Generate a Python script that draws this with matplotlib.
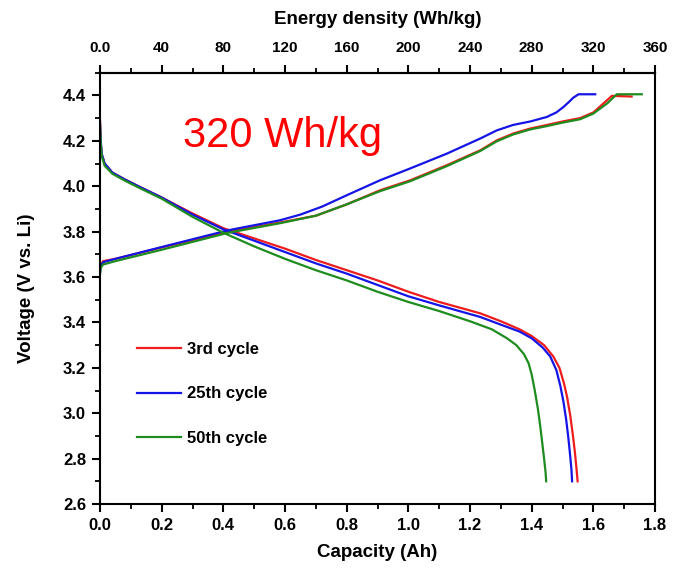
import matplotlib
matplotlib.use('Agg')
import matplotlib.pyplot as plt
from matplotlib.ticker import MultipleLocator, FuncFormatter, FixedLocator

plt.rcParams['font.family'] = ['Liberation Sans', 'DejaVu Sans']

# discharge curves (capacity Ah, voltage V)
dis3_c = [0.000, 0.002, 0.006, 0.015, 0.04, 0.08, 0.124, 0.20, 0.30, 0.40, 0.50, 0.60, 0.70, 0.80, 0.90, 1.00, 1.10, 1.233, 1.30, 1.36, 1.40, 1.44, 1.47, 1.49, 1.505, 1.515, 1.525, 1.533, 1.54, 1.545, 1.549]
dis3_v = [4.29, 4.20, 4.14, 4.10, 4.06, 4.03, 4.00, 3.95, 3.88, 3.815, 3.77, 3.725, 3.675, 3.63, 3.585, 3.535, 3.49, 3.44, 3.405, 3.37, 3.34, 3.30, 3.25, 3.20, 3.13, 3.07, 2.99, 2.91, 2.83, 2.76, 2.70]

dis25_c = [0.000, 0.002, 0.006, 0.015, 0.04, 0.08, 0.124, 0.20, 0.30, 0.40, 0.50, 0.60, 0.70, 0.80, 0.90, 1.00, 1.10, 1.233, 1.30, 1.36, 1.40, 1.435, 1.46, 1.48, 1.493, 1.503, 1.512, 1.519, 1.525, 1.529, 1.531]
dis25_v = [4.28, 4.20, 4.14, 4.10, 4.06, 4.03, 4.00, 3.95, 3.875, 3.81, 3.76, 3.71, 3.66, 3.615, 3.565, 3.515, 3.475, 3.424, 3.39, 3.36, 3.33, 3.29, 3.25, 3.19, 3.12, 3.05, 2.97, 2.89, 2.81, 2.75, 2.70]

dis50_c = [0.000, 0.002, 0.006, 0.015, 0.04, 0.08, 0.124, 0.20, 0.30, 0.40, 0.50, 0.60, 0.70, 0.80, 0.90, 1.00, 1.10, 1.20, 1.27, 1.32, 1.35, 1.375, 1.39, 1.40, 1.41, 1.42, 1.428, 1.435, 1.441, 1.445, 1.447]
dis50_v = [4.27, 4.19, 4.13, 4.09, 4.055, 4.025, 3.995, 3.945, 3.865, 3.795, 3.735, 3.68, 3.63, 3.585, 3.535, 3.49, 3.45, 3.405, 3.37, 3.33, 3.30, 3.26, 3.22, 3.17, 3.10, 3.02, 2.94, 2.86, 2.79, 2.74, 2.70]

# charge curves
ch3_c = [0.000, 0.002, 0.01, 0.05, 0.20, 0.416, 0.584, 0.70, 0.80, 0.908, 1.006, 1.124, 1.233, 1.287, 1.34, 1.395, 1.45, 1.50, 1.557, 1.60, 1.633, 1.66, 1.724]
ch3_v = [3.63, 3.65, 3.67, 3.68, 3.73, 3.80, 3.84, 3.87, 3.92, 3.982, 4.026, 4.092, 4.158, 4.202, 4.232, 4.254, 4.27, 4.285, 4.30, 4.325, 4.365, 4.398, 4.395]

ch25_c = [0.000, 0.002, 0.01, 0.05, 0.20, 0.416, 0.584, 0.65, 0.72, 0.80, 0.908, 1.00, 1.124, 1.233, 1.287, 1.34, 1.395, 1.449, 1.48, 1.503, 1.52, 1.535, 1.552, 1.606]
ch25_v = [3.62, 3.645, 3.665, 3.68, 3.732, 3.806, 3.85, 3.875, 3.91, 3.96, 4.026, 4.075, 4.143, 4.21, 4.246, 4.27, 4.285, 4.305, 4.325, 4.349, 4.37, 4.39, 4.405, 4.405]

ch50_c = [0.000, 0.002, 0.01, 0.05, 0.20, 0.416, 0.584, 0.70, 0.80, 0.908, 1.006, 1.124, 1.233, 1.287, 1.34, 1.395, 1.45, 1.50, 1.557, 1.60, 1.645, 1.676, 1.757]
ch50_v = [3.61, 3.64, 3.655, 3.67, 3.72, 3.795, 3.837, 3.87, 3.92, 3.978, 4.022, 4.088, 4.155, 4.198, 4.228, 4.25, 4.265, 4.28, 4.295, 4.32, 4.365, 4.405, 4.405]

energy_ticks = [0, 40, 80, 120, 160, 200, 240, 280, 320, 360]
energy_minor = [20, 60, 100, 140, 180, 220, 260, 300, 340]

red = '#ee1c1c'
blue = '#1414e6'
green = '#1e8c1e'

fig = plt.figure(figsize=(6.73, 5.77), dpi=100)
ax = fig.add_axes([0.1486, 0.1265, 0.8247, 0.7475])

ax.plot(dis3_c, dis3_v, color=red, lw=1.6, label='3rd cycle')
ax.plot(ch3_c, ch3_v, color=red, lw=1.6)
ax.plot(dis25_c, dis25_v, color=blue, lw=1.6, label='25th cycle')
ax.plot(ch25_c, ch25_v, color=blue, lw=1.6)
ax.plot(dis50_c, dis50_v, color=green, lw=1.6, label='50th cycle')
ax.plot(ch50_c, ch50_v, color=green, lw=1.6)

ax.set_xlim(0, 1.8)
ax.set_ylim(2.6, 4.5)
ax.xaxis.set_major_locator(MultipleLocator(0.2))
ax.xaxis.set_minor_locator(MultipleLocator(0.1))
ax.set_yticks([2.6, 2.8, 3.0, 3.2, 3.4, 3.6, 3.8, 4.0, 4.2, 4.4])
ax.yaxis.set_minor_locator(MultipleLocator(0.1))
ax.xaxis.set_major_formatter(FuncFormatter(lambda v, p: '%.1f' % v))
ax.yaxis.set_major_formatter(FuncFormatter(lambda v, p: '%.1f' % v))
ax.tick_params(which='major', direction='out', length=6, width=1.5, labelsize=12, pad=4)
ax.tick_params(which='minor', direction='out', length=3.5, width=1.3)
for lab in ax.get_xticklabels() + ax.get_yticklabels():
    lab.set_fontweight('bold')
for s in ax.spines.values():
    s.set_linewidth(1.5)

ax.set_xlabel('Capacity (Ah)', fontsize=13.5, fontweight='bold', labelpad=8)
ax.set_ylabel('Voltage (V vs. Li)', fontsize=13.5, fontweight='bold', labelpad=20)

top = ax.secondary_xaxis('top', functions=(lambda c: c * 200, lambda e: e / 200))
top.xaxis.set_major_locator(FixedLocator(energy_ticks))
top.xaxis.set_minor_locator(FixedLocator(energy_minor))
top.xaxis.set_major_formatter(FuncFormatter(lambda v, p: '0.0' if v == 0 else '%d' % v))
top.tick_params(which='major', direction='out', length=6, width=1.5, labelsize=11, pad=7)
top.tick_params(which='minor', direction='out', length=3.5, width=1.3)
for lab in top.get_xticklabels():
    lab.set_fontweight('bold')
top.spines['top'].set_linewidth(1.5)
top.set_xlabel('Energy density (Wh/kg)', fontsize=13.5, fontweight='bold', labelpad=12)

ax.text(0.27, 4.22, '320 Wh/kg', color='#ff0000', fontsize=30, va='center', ha='left')

leg = ax.legend(loc='upper left', bbox_to_anchor=(0.067, 0.375), frameon=False,
                fontsize=12, handlelength=2.6, handletextpad=0.4, labelspacing=1.75,
                borderpad=0, borderaxespad=0)
for t in leg.get_texts():
    t.set_fontweight('bold')

fig.savefig('out.png', dpi=100)
